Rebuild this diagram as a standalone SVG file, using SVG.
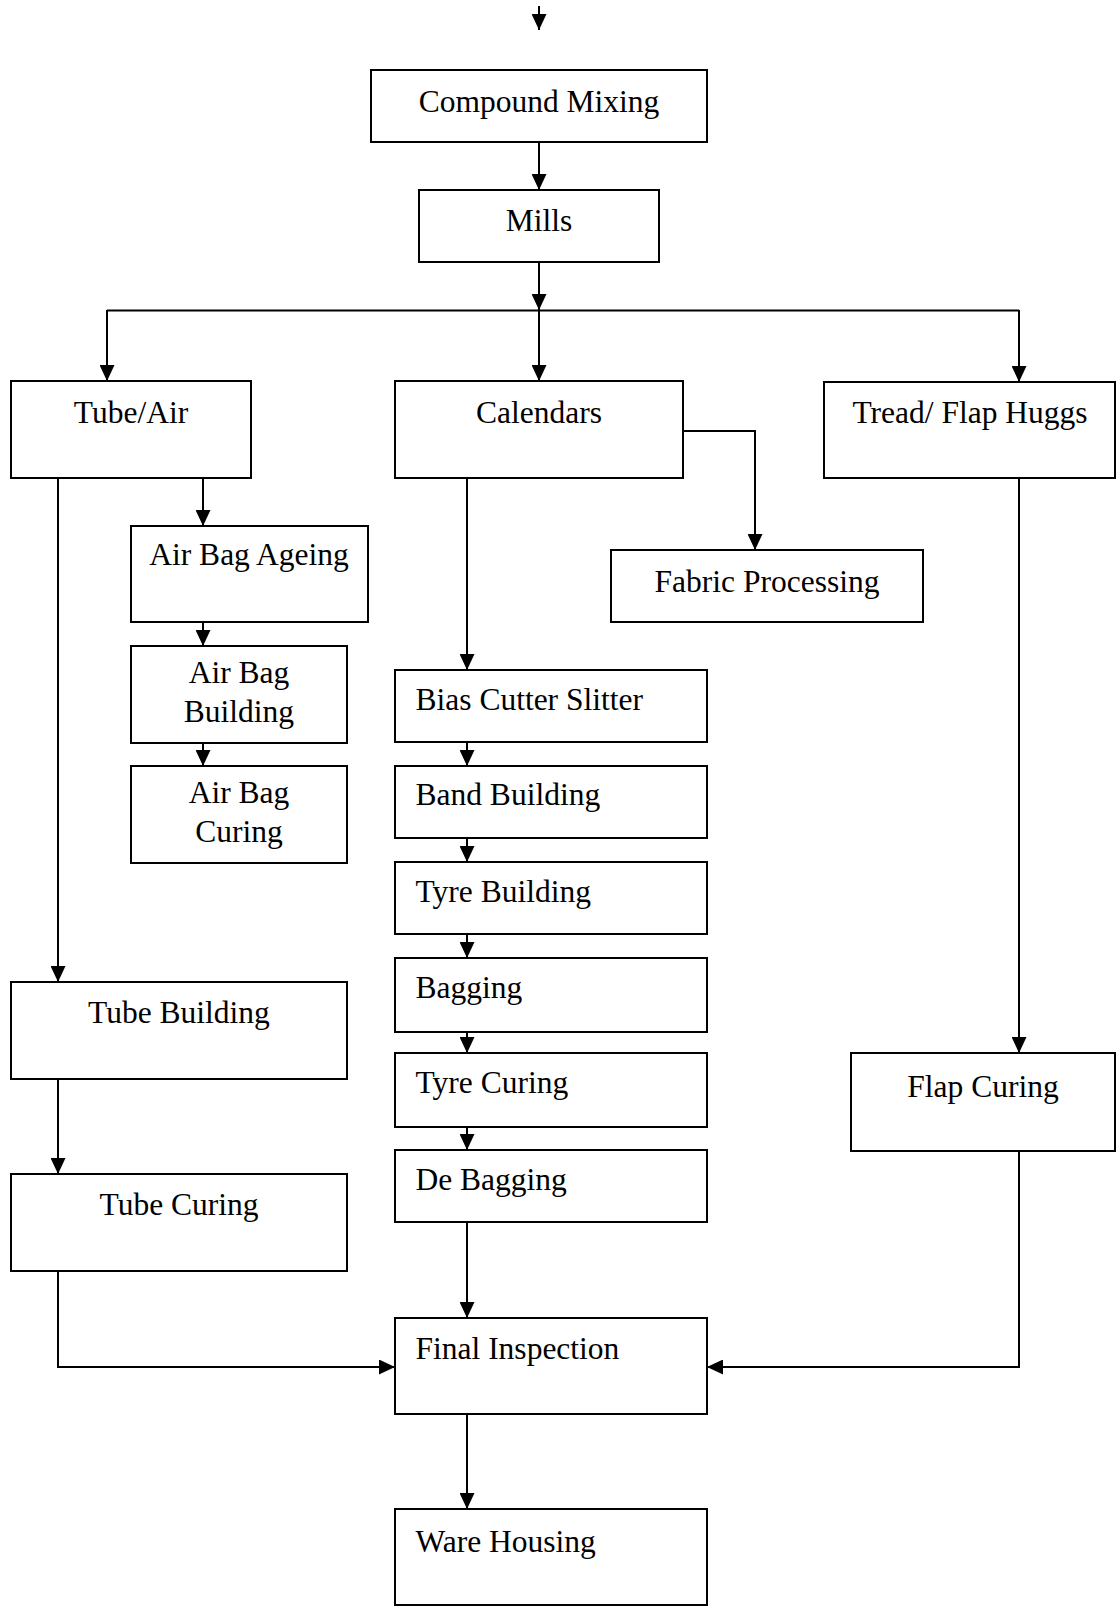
<svg xmlns="http://www.w3.org/2000/svg" width="1120" height="1606" viewBox="0 0 1120 1606">
<style>
.box{fill:#fff;stroke:#000;stroke-width:2}
.t{font-family:"Liberation Serif","Times New Roman",serif;font-size:31.5px;fill:#000}
.c{text-anchor:middle}
.ln{fill:none;stroke:#000;stroke-width:2;marker-end:url(#ah)}
.pl{fill:none;stroke:#000;stroke-width:2}
</style>
<defs>
<marker id="ah" markerUnits="userSpaceOnUse" viewBox="0 0 16 15" refX="16" refY="7.5" markerWidth="16" markerHeight="15" orient="auto">
<path d="M0,0 L16,7.5 L0,15 Z" fill="#000"/>
</marker>
</defs>
<rect width="1120" height="1606" fill="#fff"/>
<g id="connectors">
<path class="ln" d="M539,6 V30"/>
<path class="ln" d="M539,142 V190"/>
<path class="ln" d="M539,262 V310"/>
<path class="pl" d="M107,310.5 H1019"/>
<path class="ln" d="M107,310 V381"/>
<path class="ln" d="M539,310 V381"/>
<path class="ln" d="M1019,310 V382"/>
<path class="ln" d="M683,431 H755 V550"/>
<path class="ln" d="M203,478 V526"/>
<path class="ln" d="M203,622 V646"/>
<path class="ln" d="M203,743 V766"/>
<path class="ln" d="M58,478 V982"/>
<path class="ln" d="M58,1079 V1174"/>
<path class="ln" d="M58,1271 V1367 H395"/>
<path class="ln" d="M467,478 V670"/>
<path class="ln" d="M467,742 V766"/>
<path class="ln" d="M467,838 V862"/>
<path class="ln" d="M467,934 V958"/>
<path class="ln" d="M467,1032 V1053"/>
<path class="ln" d="M467,1127 V1150"/>
<path class="ln" d="M467,1222 V1318"/>
<path class="ln" d="M1019,478 V1053"/>
<path class="ln" d="M1019,1151 V1367 H707"/>
<path class="ln" d="M467,1414 V1509"/>
</g>
<g id="compound-mixing"><rect class="box" x="371" y="70" width="336" height="72"/><text class="t c" x="539" y="112">Compound Mixing</text></g>
<g id="mills"><rect class="box" x="419" y="190" width="240" height="72"/><text class="t c" x="539" y="231">Mills</text></g>
<g id="tube-air"><rect class="box" x="11" y="381" width="240" height="97"/><text class="t c" x="131" y="423">Tube/Air</text></g>
<g id="calendars"><rect class="box" x="395" y="381" width="288" height="97"/><text class="t c" x="539" y="423">Calendars</text></g>
<g id="tread-flap-huggs"><rect class="box" x="824" y="382" width="291" height="96"/><text class="t c" x="970" y="423">Tread/ Flap Huggs</text></g>
<g id="air-bag-ageing"><rect class="box" x="131" y="526" width="237" height="96"/><text class="t c" x="249" y="565">Air Bag Ageing</text></g>
<g id="fabric-processing"><rect class="box" x="611" y="550" width="312" height="72"/><text class="t c" x="767" y="592">Fabric Processing</text></g>
<g id="air-bag-building"><rect class="box" x="131" y="646" width="216" height="97"/><text class="t c" x="239" y="683">Air Bag</text><text class="t c" x="239" y="722">Building</text></g>
<g id="bias-cutter-slitter"><rect class="box" x="395" y="670" width="312" height="72"/><text class="t" x="415.5" y="710">Bias Cutter Slitter</text></g>
<g id="air-bag-curing"><rect class="box" x="131" y="766" width="216" height="97"/><text class="t c" x="239" y="803">Air Bag</text><text class="t c" x="239" y="842">Curing</text></g>
<g id="band-building"><rect class="box" x="395" y="766" width="312" height="72"/><text class="t" x="415.5" y="805">Band Building</text></g>
<g id="tyre-building"><rect class="box" x="395" y="862" width="312" height="72"/><text class="t" x="415.5" y="902">Tyre Building</text></g>
<g id="bagging"><rect class="box" x="395" y="958" width="312" height="74"/><text class="t" x="415.5" y="998">Bagging</text></g>
<g id="tyre-curing"><rect class="box" x="395" y="1053" width="312" height="74"/><text class="t" x="415.5" y="1093">Tyre Curing</text></g>
<g id="de-bagging"><rect class="box" x="395" y="1150" width="312" height="72"/><text class="t" x="415.5" y="1190">De Bagging</text></g>
<g id="tube-building"><rect class="box" x="11" y="982" width="336" height="97"/><text class="t c" x="179" y="1023">Tube Building</text></g>
<g id="tube-curing"><rect class="box" x="11" y="1174" width="336" height="97"/><text class="t c" x="179" y="1215">Tube Curing</text></g>
<g id="flap-curing"><rect class="box" x="851" y="1053" width="264" height="98"/><text class="t c" x="983" y="1097">Flap Curing</text></g>
<g id="final-inspection"><rect class="box" x="395" y="1318" width="312" height="96"/><text class="t" x="415.5" y="1359">Final Inspection</text></g>
<g id="ware-housing"><rect class="box" x="395" y="1509" width="312" height="96"/><text class="t" x="415.5" y="1552">Ware Housing</text></g>
</svg>
